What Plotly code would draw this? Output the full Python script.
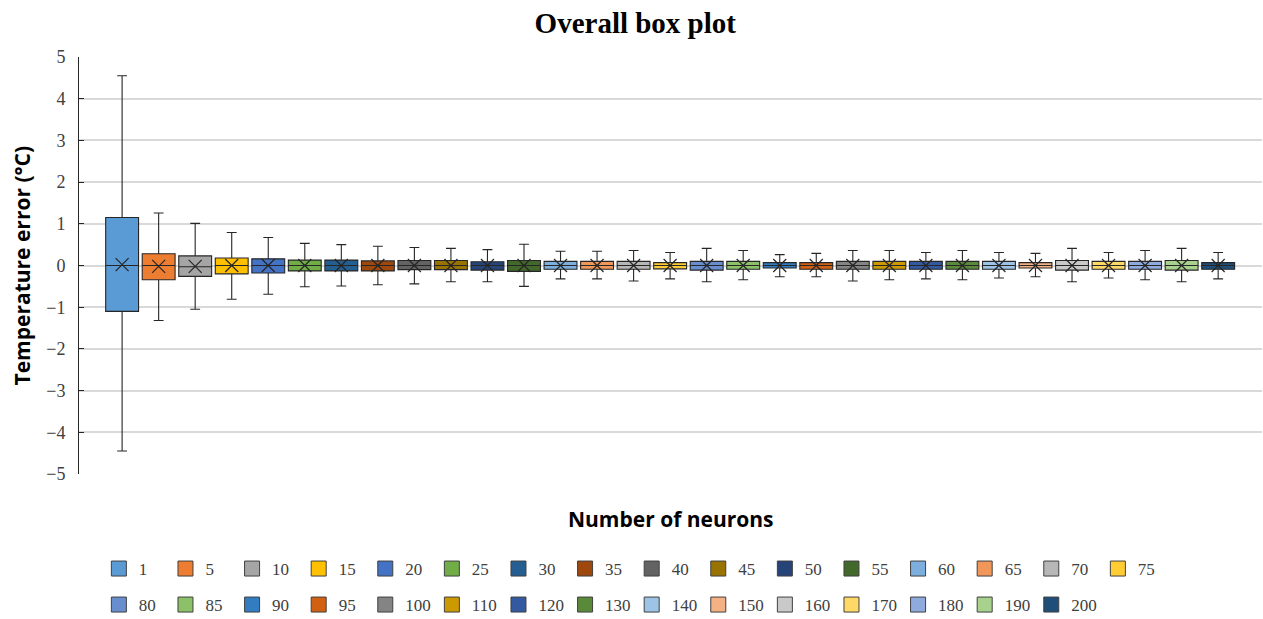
import plotly.graph_objects as go

neurons = ["1", "5", "10", "15", "20", "25", "30", "35", "40", "45", "50", "55", "60", "65", "70", "75",
           "80", "85", "90", "95", "100", "110", "120", "130", "140", "150", "160", "170", "180", "190", "200"]
upper = [4.55, 1.26, 1.01, 0.79, 0.67, 0.53, 0.50, 0.46, 0.43, 0.41, 0.38, 0.51, 0.34, 0.34, 0.36, 0.31,
         0.41, 0.36, 0.26, 0.29, 0.36, 0.36, 0.31, 0.36, 0.31, 0.29, 0.41, 0.31, 0.36, 0.41, 0.31]
q3 = [1.15, 0.28, 0.23, 0.18, 0.16, 0.13, 0.13, 0.11, 0.12, 0.12, 0.09, 0.12, 0.10, 0.10, 0.10, 0.07,
      0.10, 0.10, 0.07, 0.07, 0.10, 0.10, 0.10, 0.10, 0.10, 0.07, 0.12, 0.10, 0.10, 0.12, 0.07]
median = [0.0, 0.0, -0.03, 0.0, 0.0, 0.0, 0.0, 0.0, 0.0, 0.0, 0.0, 0.0, 0.0, 0.0, 0.0, 0.0,
          0.0, 0.0, 0.0, 0.0, 0.0, 0.0, 0.0, 0.0, 0.0, 0.0, 0.0, 0.0, 0.0, 0.0, 0.0]
q1 = [-1.10, -0.34, -0.26, -0.20, -0.18, -0.13, -0.13, -0.13, -0.10, -0.10, -0.11, -0.14, -0.09, -0.09, -0.09, -0.08,
      -0.11, -0.09, -0.06, -0.09, -0.09, -0.09, -0.09, -0.09, -0.09, -0.06, -0.11, -0.09, -0.09, -0.11, -0.09]
lower = [-4.45, -1.32, -1.05, -0.81, -0.69, -0.51, -0.49, -0.46, -0.44, -0.39, -0.39, -0.50, -0.32, -0.32, -0.37, -0.32,
         -0.39, -0.34, -0.27, -0.27, -0.37, -0.34, -0.32, -0.34, -0.30, -0.27, -0.39, -0.30, -0.34, -0.39, -0.32]
mean = [0.02, -0.02, -0.02, 0.0, 0.0, 0.0, 0.0, 0.0, 0.0, 0.0, 0.0, 0.0, 0.0, 0.0, 0.0, 0.0,
        0.0, 0.0, 0.0, 0.0, 0.0, 0.0, 0.0, 0.0, 0.0, 0.0, 0.0, 0.0, 0.0, 0.0, 0.0]
colors = ["#5B9BD5", "#ED7D31", "#A5A5A5", "#FFC000", "#4472C4", "#70AD47", "#255E91", "#9E480E",
          "#636363", "#997300", "#264478", "#43682B", "#7CAFDD", "#F1975A", "#B7B7B7", "#FFCD33",
          "#698ED0", "#8CC168", "#327DC2", "#D26012", "#848484", "#CC9A00", "#335AA1", "#5A8A39",
          "#9DC3E6", "#F4B183", "#C9C9C9", "#FFD966", "#8FAADC", "#A9D18E", "#1F4E79"]

fig = go.Figure()
for i, n in enumerate(neurons):
    fig.add_trace(go.Box(
        x=[i], q1=[q1[i]], median=[median[i]], q3=[q3[i]],
        lowerfence=[lower[i]], upperfence=[upper[i]],
        name=n, width=0.9, whiskerwidth=0.3,
        fillcolor=colors[i], line=dict(color="#262626", width=1.1),
        boxpoints=False, showlegend=False, hoverinfo="skip",
    ))

# legend entries (square swatches like the original)
for i, n in enumerate(neurons):
    fig.add_trace(go.Scatter(
        x=[None], y=[None], mode="markers", name=n,
        marker=dict(symbol="square", size=15, color=colors[i], line=dict(color="#404040", width=1)),
        legend="legend" if i < 16 else "legend2",
    ))

fig.add_trace(go.Scatter(
    x=list(range(len(neurons))), y=mean, mode="markers", showlegend=False,
    marker=dict(symbol="x-thin", size=13, line=dict(color="#262626", width=1.2)),
    hoverinfo="skip",
))

serif = "Liberation Serif, Times New Roman, serif"
sans = "Open Sans, sans-serif"
legend_common = dict(
    orientation="h", xanchor="left", yanchor="middle", yref="container",
    font=dict(family=serif, size=17, color="#404040"),
    entrywidth=21.6, entrywidthmode="pixels", itemwidth=30, itemsizing="trace",
    bgcolor="rgba(0,0,0,0)", traceorder="normal",
)

fig.update_layout(
    width=1263, height=619,
    paper_bgcolor="white", plot_bgcolor="white",
    margin=dict(l=79, r=1, t=57, b=145),
    boxmode="overlay",
    title=dict(text="<b>Overall box plot</b>", x=0.503, xref="container", xanchor="center",
               y=0.963, yanchor="middle", yref="container",
               font=dict(family=serif, size=29, color="black")),
    xaxis=dict(range=[-1.18, 31.2], showticklabels=False, showgrid=False, zeroline=False,
               showline=False, ticks=""),
    yaxis=dict(range=[-5, 5], dtick=1, tick0=0, showgrid=True, gridcolor="#D9D9D9", gridwidth=1.5,
               zeroline=False, showline=True, linecolor="#262626", linewidth=1,
               ticks="inside", ticklen=5, tickcolor="#262626",
               tickfont=dict(family=serif, size=18, color="#404040"), ticklabelstandoff=9),
    legend=dict(x=0.0168, y=0.0808, **legend_common),
    legend2=dict(x=0.0168, y=0.0226, **legend_common),
    annotations=[
        dict(text="<b>Temperature error (°C)</b>", xref="paper", yref="paper", x=-0.0482, y=0.5,
             xanchor="center", yanchor="middle", textangle=-90, showarrow=False,
             font=dict(family=sans, size=21, color="black")),
        dict(text="<b>Number of neurons</b>", xref="paper", yref="paper", x=0.5, y=-0.108,
             xanchor="center", yanchor="middle", showarrow=False,
             font=dict(family=sans, size=21, color="black")),
    ],
)

fig.write_html("out.html")
